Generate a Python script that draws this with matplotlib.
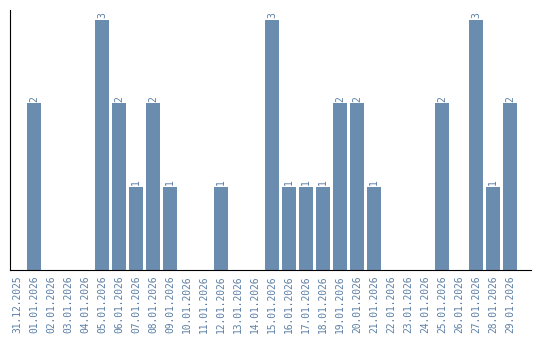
import matplotlib
matplotlib.use('Agg')
import numpy as np
import matplotlib.pyplot as plt

dates = ['31.12.2025'] + ['%02d.01.2026' % d for d in range(1, 30)]
counts = [0, 2, 0, 0, 0, 3, 2, 1, 2, 1,
          0, 0, 1, 0, 0, 3, 1, 1, 1, 2,
          2, 1, 0, 0, 0, 2, 0, 3, 1, 2]

bar_color = '#6a8caf'
label_color = '#5b7fa6'

fig = plt.figure(figsize=(5.4, 3.4), dpi=100)
ax = fig.add_axes([10 / 540, 70 / 340, 521 / 540, 260 / 340])

ind = np.arange(len(dates))
rects = ax.bar(ind, counts, 0.82, color=bar_color)

for rect, v in zip(rects, counts):
    if v > 0:
        ax.text(rect.get_x() + rect.get_width() / 2., v + 0.02, '%d' % v,
                ha='center', va='bottom', rotation='vertical',
                fontsize=7, family='DejaVu Sans Mono', color=label_color)

ax.set_xlim(-0.41, 30.24)
ax.set_ylim(0, 3.12)
ax.set_xticks(ind)
ax.set_xticklabels(dates, rotation=90, fontsize=6.9, family='DejaVu Sans Mono',
                   color=label_color)
ax.tick_params(axis='x', length=0, pad=4)
ax.set_yticks([])
ax.spines['top'].set_visible(False)
ax.spines['right'].set_visible(False)

fig.savefig('out.png', dpi=100)
